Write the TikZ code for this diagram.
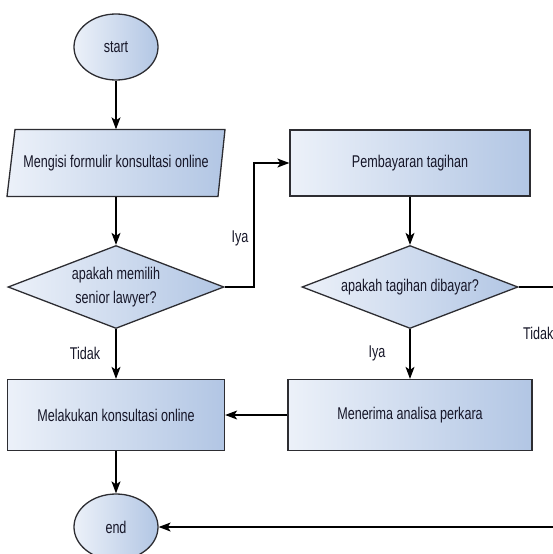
\documentclass[tikz,border=0pt]{standalone}
\usepackage{fontspec}
\setmainfont{Liberation Sans}[FakeStretch=0.74]
\usetikzlibrary{shapes.geometric,arrows.meta}
\definecolor{gl}{RGB}{236,241,249}
\definecolor{gr}{RGB}{178,198,228}
\definecolor{bd}{RGB}{45,45,50}
\definecolor{tx}{RGB}{22,22,40}
\tikzset{
  grad/.style={left color=gl, right color=gr, draw=bd, line width=1.3pt, text=tx},
  term/.style={ellipse, grad, minimum width=84pt, minimum height=66pt, inner sep=0pt},
  proc/.style={rectangle, grad, minimum height=71pt, inner sep=0pt},
  iobox/.style={rectangle, minimum width=218pt, minimum height=67pt, inner sep=0pt, text=tx},
  dec/.style={diamond, shape aspect=2.6, grad, minimum width=216pt, minimum height=83pt, inner sep=0pt, align=center},
  conn/.style={-{Stealth[length=12pt,width=9pt,inset=3pt]}, line width=1.1pt, draw=black},
  lbl/.style={text=tx, inner sep=0pt},
  every node/.style={font=\fontsize{17}{24}\selectfont}
}
\begin{document}
\begin{tikzpicture}[x=1pt,y=-1pt]
\useasboundingbox (0,0) rectangle (553,554);
\clip (0,0) rectangle (553,554);
\node[term] (start) at (116,47) {start};
\draw[grad] (7,196.5) -- (218,196.5) -- (225,129.5) -- (15,129.5) -- cycle;
\node[iobox] (para) at (116,163) {Mengisi formulir konsultasi online};
\node[dec] (d1) at (116,287) {apakah memilih\\senior lawyer?};
\node[proc, minimum width=217pt] (mel) at (116,415) {Melakukan konsultasi online};
\node[term] (end) at (116,527) {end};
\node[proc, minimum width=240pt, minimum height=66pt] (pem) at (410,163) {Pembayaran tagihan};
\node[dec] (d2) at (410,287) {apakah tagihan dibayar?};
\node[proc, minimum width=244pt] (men) at (410,415) {Menerima analisa perkara};
\coordinate (j1) at (254,163);
\coordinate (rt) at (562,287);
\coordinate (rb) at (562,527);
\draw[conn] (start.south) -- (para.north);
\draw[conn] (para.south) -- (d1.north);
\draw[conn] (d1.east) -| (j1) -- (pem.west);
\draw[conn] (d1.south) -- (mel.north);
\draw[conn] (pem.south) -- (d2.north);
\draw[conn] (d2.south) -- (men.north);
\draw[conn] (men.west) -- (mel.east);
\draw[conn] (mel.south) -- (end.north);
\draw[conn] (d2.east) -- (rt) -- (rb) -- (end.east);
\node[lbl] (l1) at (240,238) {Iya};
\node[lbl] (l2) at (85,353) {Tidak};
\node[lbl] (l3) at (377,353) {Iya};
\node[lbl, anchor=west] (l4) at (523,333) {Tidak};
\end{tikzpicture}
\end{document}
